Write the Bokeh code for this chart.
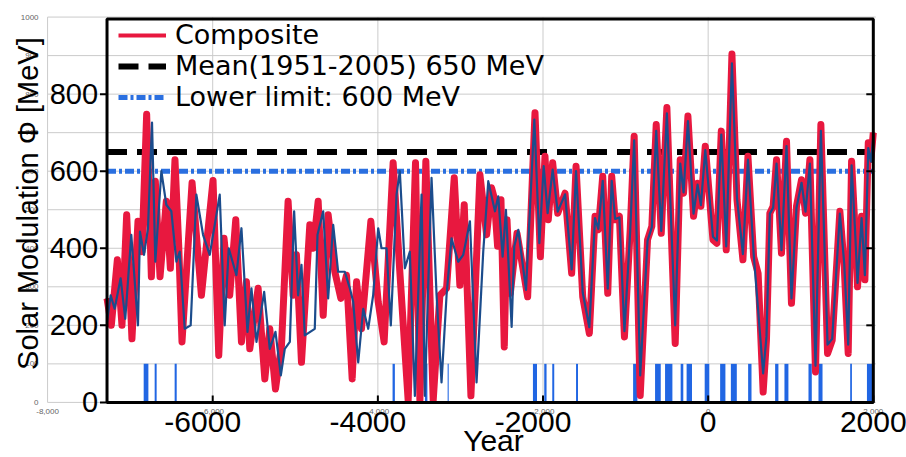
from bokeh.plotting import figure
from bokeh.models import (Range1d, Legend, LegendItem, ColumnDataSource, LabelSet, Label)
from bokeh.embed import file_html
from bokeh.resources import INLINE
from bokeh.core.properties import value

# ---------------- data ----------------
composite_year = [-7280, -7228, -7155, -7099, -7042, -6978, -6905, -6857, -6800, -6743,
                  -6695, -6638, -6562, -6513, -6457, -6412, -6372, -6250, -6137, -5996,
                  -5927, -5863, -5794, -5721, -5652, -5592, -5551, -5450, -5369, -5309,
                  -5240, -5167, -5087, -5026, -4986, -4925, -4824, -4784, -4723, -4662,
                  -4602, -4521, -4448, -4380, -4311, -4258, -4198, -4085, -3996, -3924,
                  -3815, -3734, -3633, -3544, -3491, -3419, -3330, -3249, -3168, -3075,
                  -3007, -2954, -2873, -2764, -2683, -2623, -2590, -2550, -2509, -2469,
                  -2436, -2396, -2315, -2247, -2186, -2097, -2032, -1976, -1936, -1883,
                  -1822, -1733, -1653, -1600, -1519, -1439, -1370, -1330, -1277, -1216,
                  -1168, -1127, -1075, -1014, -944, -896, -823, -734, -682, -629,
                  -568, -500, -399, -338, -298, -245, -177, -128, -88, -35,
                  58, 106, 159, 219, 288, 349, 421, 482, 551, 605,
                  666, 706, 747, 787, 828, 888, 949, 1009, 1070, 1131,
                  1179, 1232, 1300, 1365, 1446, 1502, 1595, 1648, 1696, 1737,
                  1777, 1809, 1858, 1898, 1939, 1971, 2000]
composite_phi = [270, 200, 370, 200, 487, 165, 470, 391, 748, 326,
                 574, 326, 522, 348, 630, 409, 157, 570, 278, 576,
                 122, 426, 278, 474, 157, 313, 139, 296, 61, 191,
                 35, 148, 522, 278, 383, 104, 461, 400, 522, 226,
                 487, 339, 270, 330, 61, 313, 191, 470, 261, 157,
                 622, 339, 5, 622, 5, 626, 5, 278, 296, 583,
                 304, 513, 17, 591, 435, 557, 530, 405, 526, 144,
                 474, 283, 439, 352, 274, 752, 378, 639, 474, 622,
                 491, 543, 335, 613, 274, 179, 483, 448, 587, 283,
                 587, 474, 483, 170, 448, 691, 18, 422, 457, 721,
                 439, 765, 153, 630, 543, 743, 483, 569, 509, 665,
                 422, 413, 704, 396, 904, 526, 370, 639, 378, 335,
                 27, 161, 491, 509, 630, 387, 678, 257, 509, 578,
                 491, 630, 79, 721, 127, 161, 496, 352, 127, 626,
                 457, 300, 483, 318, 674, 630, 700]

second_year = [-7280, -7236, -7188, -7115, -7059, -6986, -6905, -6881, -6832, -6784,
               -6735, -6695, -6622, -6562, -6501, -6440, -6400, -6339, -6267, -6198,
               -6117, -6036, -5915, -5855, -5806, -5713, -5652, -5579, -5531, -5470,
               -5377, -5309, -5240, -5175, -5127, -5066, -5014, -4966, -4925, -4885,
               -4764, -4731, -4662, -4602, -4541, -4481, -4400, -4339, -4299, -4238,
               -4177, -4117, -4057, -3996, -3956, -3895, -3843, -3774, -3734, -3673,
               -3613, -3552, -3471, -3431, -3350, -3289, -3229, -3168, -3108, -3027,
               -2966, -2885, -2805, -2724, -2663, -2582, -2542, -2489, -2449, -2380,
               -2348, -2299, -2206, -2105, -2044, -1992, -1944, -1883, -1822, -1733,
               -1653, -1600, -1519, -1439, -1370, -1330, -1277, -1216, -1168, -1127,
               -1075, -1014, -944, -896, -823, -734, -682, -629, -568, -500,
               -399, -338, -298, -245, -177, -128, -88, -35, 58, 106,
               159, 219, 288, 349, 421, 482, 551, 666, 706, 747,
               787, 828, 888, 949, 1009, 1070, 1131, 1179, 1232, 1300,
               1365, 1446, 1502, 1595, 1648, 1696, 1737, 1777, 1809, 1858,
               1898, 1939, 1971, 2000]
second_phi = [209, 278, 243, 322, 217, 435, 200, 443, 383, 452,
              726, 365, 600, 513, 496, 365, 391, 191, 200, 539,
              435, 383, 539, 200, 400, 330, 452, 183, 296, 157,
              287, 139, 183, 70, 139, 157, 496, 278, 357, 174,
              191, 435, 496, 270, 461, 339, 339, 296, 261, 104,
              243, 191, 278, 452, 400, 400, 200, 539, 600, 348,
              391, 17, 539, 17, 583, 278, 52, 278, 426, 365,
              383, 470, 52, 391, 574, 496, 535, 378, 500, 196,
              405, 448, 292, 734, 413, 613, 491, 604, 495, 540,
              345, 600, 285, 195, 478, 450, 575, 295, 575, 476,
              480, 185, 445, 680, 70, 420, 455, 705, 445, 750,
              200, 620, 545, 730, 490, 565, 512, 655, 430, 420,
              695, 405, 880, 530, 385, 630, 385, 75, 170, 490,
              505, 620, 395, 665, 270, 505, 570, 495, 620, 95,
              705, 150, 165, 490, 360, 150, 615, 455, 310, 478,
              330, 660, 625, 690]

minima_start = [-6836, -6703, -6461, -3822, -3430, -3155, -2122, -1985, -1888, -1600,
                -909, -643, -522, -333, -261, -42, 145, 275, 484, 811,
                924, 1215, 1336, 1720, 1923]
minima_end = [-6779, -6679, -6436, -3794, -3400, -3142, -2073, -1957, -1864, -1576,
              -857, -574, -433, -301, -196, 14, 209, 347, 525, 851,
              972, 1255, 1385, 1741, 2000]
minima_top = 100

mean_phi = 650
lower_phi = 600

main_y_ticks = [0, 200, 400, 600, 800]
main_x_ticks = [-6000, -4000, -2000, 0, 2000]
back_y_ticks = [0, 100, 200, 300, 400, 500, 600, 700, 800, 900, 1000]
back_x_ticks = [-8000, -6000, -4000, -2000, 0, 2000]

legend_labels = ["Composite", "Mean(1951-2005) 650 MeV", "Lower limit: 600 MeV"]
x_title = "Year"
y_title = "Solar Modulation \u03a6 [MeV]"

# ---------------- layout / style ----------------
X_BOX_MIN, X_BOX_MAX, Y_BOX_TOP = -7280, 2000, 995
BACK_X_MIN, BACK_X_MAX, BACK_Y_MAX = -8000, 2030, 1000
FONT = "Liberation Sans"
LEGEND_FONT = "DejaVu Sans"
RED = "#e8183f"
NAVY = "#1b4c8c"
BAR = "#2166e3"
DASHDOT = "#2a6fe0"
GRID = "#cbcbcb"

# the frame covers the whole canvas; data positions map to the picture's pixels
p = figure(width=906, height=457, x_range=Range1d(-8570, 2402), y_range=Range1d(-143, 1043),
           output_backend="svg", toolbar_location=None,
           x_axis_location=None, y_axis_location=None, min_border=0)
p.outline_line_color = None
p.background_fill_color = "white"
p.border_fill_color = "white"
p.xgrid.visible = False
p.ygrid.visible = False

# background (faint) grid of the underlying chart
ny, nx = len(back_y_ticks), len(back_x_ticks)
p.segment(x0=[BACK_X_MIN] * ny, y0=back_y_ticks, x1=[BACK_X_MAX] * ny, y1=back_y_ticks,
          line_color=GRID, line_width=1)
p.segment(x0=back_x_ticks, y0=[0] * nx, x1=back_x_ticks, y1=[BACK_Y_MAX] * nx,
          line_color=GRID, line_width=1)
bysrc = ColumnDataSource(dict(x=[BACK_X_MIN] * ny, y=back_y_ticks, text=[str(t) for t in back_y_ticks]))
p.add_layout(LabelSet(x="x", y="y", text="text", source=bysrc, x_offset=-9,
                      text_align="right", text_baseline="middle",
                      text_font=value(FONT), text_font_size="8px", text_color="#666666"))
bxsrc = ColumnDataSource(dict(x=back_x_ticks, y=[-24] * nx, text=[f"{t:,}" for t in back_x_ticks]))
p.add_layout(LabelSet(x="x", y="y", text="text", source=bxsrc,
                      text_align="center", text_baseline="middle",
                      text_font=value(FONT), text_font_size="8px", text_color="#666666"))

# minima bars
p.quad(left=minima_start, right=minima_end, bottom=0, top=minima_top,
       fill_color=BAR, line_color=None)

# reference lines
mean_r = p.line([X_BOX_MIN, X_BOX_MAX], [mean_phi, mean_phi], line_color="black",
                line_width=6, line_dash="20 10")
lower_r = p.line([X_BOX_MIN, X_BOX_MAX], [lower_phi, lower_phi], line_color=DASHDOT,
                 line_width=5, line_dash="9 3 3 3")

# curves (a thinner copy underneath serves as the legend sample)
comp_legend = p.line(composite_year, composite_phi, line_color=RED, line_width=4)
p.line(composite_year, composite_phi, line_color=RED, line_width=7, line_join="round")
p.line(second_year, second_phi, line_color=NAVY, line_width=2.2, line_join="round")

# main box
p.quad(left=X_BOX_MIN, right=X_BOX_MAX, bottom=0, top=Y_BOX_TOP, fill_alpha=0,
       line_color="black", line_width=3)

# main ticks
TL_X = 85
TL_Y = 18
n = len(main_y_ticks)
p.segment(x0=[X_BOX_MIN] * n, y0=main_y_ticks, x1=[X_BOX_MIN - TL_X] * n, y1=main_y_ticks,
          line_color="black", line_width=2)
p.segment(x0=[X_BOX_MAX] * (n - 1), y0=main_y_ticks[1:], x1=[X_BOX_MAX - TL_X] * (n - 1),
          y1=main_y_ticks[1:], line_color="black", line_width=2)
m = len(main_x_ticks)
p.segment(x0=main_x_ticks, y0=[0] * m, x1=main_x_ticks, y1=[TL_Y] * m,
          line_color="black", line_width=2)

# main tick labels
ysrc = ColumnDataSource(dict(x=[X_BOX_MIN] * n, y=main_y_ticks, text=[str(t) for t in main_y_ticks]))
p.add_layout(LabelSet(x="x", y="y", text="text", source=ysrc, x_offset=-9,
                      text_align="right", text_baseline="middle",
                      text_font=value(FONT), text_font_size="29px", text_color="black"))
xsrc = ColumnDataSource(dict(x=main_x_ticks, y=[-52] * m, text=[str(t) for t in main_x_ticks],
                             off=[-10 if t < 0 else 0 for t in main_x_ticks]))
p.add_layout(LabelSet(x="x", y="y", text="text", source=xsrc, x_offset="off",
                      text_align="center", text_baseline="middle",
                      text_font=value(FONT), text_font_size="30px", text_color="black"))

p.add_layout(Label(x=-2600, y=-99, text=x_title, text_align="center", text_baseline="middle",
                   text_font=FONT, text_font_size="30px", text_color="black"))
p.add_layout(Label(x=-8243, y=516, text=y_title, angle=1.5708,
                   text_align="center", text_baseline="middle",
                   text_font=FONT, text_font_size="29px", text_color="black"))

legend = Legend(items=[LegendItem(label=legend_labels[0], renderers=[comp_legend]),
                       LegendItem(label=legend_labels[1], renderers=[mean_r]),
                       LegendItem(label=legend_labels[2], renderers=[lower_r])],
                location=(118, 345), padding=0, margin=0, spacing=0,
                glyph_width=48, glyph_height=20, label_standoff=9,
                label_text_font=LEGEND_FONT, label_text_font_size="27px",
                label_text_color="black",
                border_line_color=None, background_fill_alpha=0)
p.add_layout(legend)

open("out.html", "w").write(file_html(p, INLINE))
